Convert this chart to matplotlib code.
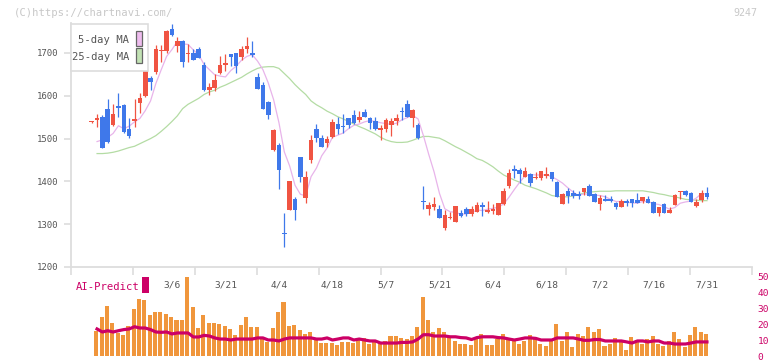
import matplotlib
matplotlib.use('Agg')
import matplotlib.pyplot as plt
import numpy as np
from matplotlib.patches import Rectangle

plt.rcParams['font.family'] = ['DejaVu Sans Mono']

# daily candles (index 0 .. 115)
opens = [1538, 1543, 1551, 1569, 1532, 1576, 1578, 1522, 1542, 1584,
         1599, 1642, 1656, 1704, 1705, 1755, 1717, 1728, 1698, 1701,
         1709, 1672, 1613, 1617, 1654, 1671, 1698, 1699, 1690, 1709,
         1701, 1645, 1625, 1586, 1473, 1485, 1278, 1333, 1359, 1458,
         1362, 1450, 1522, 1502, 1490, 1504, 1534, 1530, 1547, 1555,
         1544, 1561, 1547, 1541, 1521, 1522, 1532, 1541, 1564, 1581,
         1549, 1532, 1354, 1336, 1341, 1335, 1290, 1314, 1306, 1327,
         1335, 1324, 1329, 1346, 1329, 1330, 1322, 1347, 1389, 1429,
         1427, 1411, 1417, 1407, 1407, 1413, 1423, 1399, 1347, 1378,
         1374, 1371, 1376, 1389, 1370, 1347, 1360, 1359, 1350, 1341,
         1354, 1359, 1357, 1354, 1360, 1353, 1327, 1347, 1327, 1345,
         1376, 1378, 1374, 1343, 1357, 1374]
highs = [1540, 1557, 1555, 1592, 1581, 1606, 1581, 1547, 1592, 1606,
         1663, 1646, 1719, 1719, 1754, 1768, 1738, 1730, 1720, 1709,
         1713, 1678, 1629, 1652, 1693, 1698, 1698, 1700, 1717, 1738,
         1728, 1654, 1633, 1587, 1522, 1489, 1327, 1401, 1364, 1458,
         1425, 1508, 1534, 1508, 1506, 1545, 1550, 1557, 1549, 1567,
         1565, 1569, 1550, 1550, 1532, 1549, 1549, 1558, 1573, 1590,
         1568, 1536, 1389, 1353, 1363, 1345, 1332, 1329, 1343, 1332,
         1339, 1343, 1353, 1351, 1354, 1347, 1350, 1385, 1429, 1438,
         1431, 1434, 1420, 1423, 1425, 1433, 1423, 1400, 1374, 1384,
         1380, 1378, 1385, 1394, 1372, 1368, 1368, 1366, 1351, 1360,
         1360, 1360, 1374, 1364, 1366, 1354, 1340, 1350, 1341, 1371,
         1378, 1380, 1375, 1359, 1380, 1388]
lows = [1536, 1528, 1479, 1490, 1530, 1551, 1514, 1502, 1528, 1559,
        1598, 1613, 1652, 1680, 1699, 1740, 1703, 1668, 1680, 1683,
        1688, 1611, 1602, 1612, 1652, 1659, 1670, 1654, 1684, 1699,
        1691, 1615, 1568, 1546, 1472, 1382, 1247, 1333, 1310, 1399,
        1349, 1442, 1493, 1481, 1481, 1502, 1511, 1512, 1524, 1535,
        1538, 1550, 1523, 1521, 1497, 1516, 1505, 1532, 1543, 1551,
        1526, 1498, 1335, 1322, 1332, 1315, 1286, 1313, 1305, 1317,
        1319, 1319, 1328, 1318, 1325, 1323, 1321, 1346, 1385, 1407,
        1397, 1410, 1390, 1405, 1403, 1407, 1402, 1363, 1347, 1350,
        1362, 1358, 1369, 1366, 1352, 1333, 1354, 1353, 1335, 1340,
        1343, 1339, 1349, 1349, 1349, 1326, 1320, 1326, 1326, 1344,
        1360, 1366, 1352, 1339, 1353, 1360]
closes = [1538, 1547, 1479, 1493, 1557, 1572, 1516, 1505, 1546, 1595,
          1663, 1633, 1709, 1706, 1751, 1742, 1728, 1680, 1700, 1684,
          1689, 1613, 1621, 1637, 1672, 1676, 1690, 1670, 1709, 1717,
          1695, 1616, 1569, 1555, 1520, 1427, 1276, 1401, 1333, 1411,
          1411, 1497, 1501, 1481, 1499, 1538, 1522, 1526, 1532, 1537,
          1551, 1551, 1537, 1522, 1524, 1543, 1541, 1549, 1562, 1551,
          1567, 1502, 1351, 1345, 1347, 1315, 1322, 1316, 1342, 1318,
          1323, 1335, 1345, 1339, 1333, 1335, 1349, 1378, 1419, 1425,
          1417, 1424, 1397, 1411, 1424, 1417, 1406, 1364, 1371, 1366,
          1367, 1367, 1384, 1367, 1353, 1362, 1355, 1355, 1341, 1354,
          1350, 1350, 1350, 1363, 1350, 1327, 1339, 1327, 1333, 1368,
          1378, 1368, 1353, 1353, 1374, 1363]

# moving averages, volume and AI-Predict (index 1 .. 115)
ma5 = [1493, 1497, 1503, 1512, 1530, 1523, 1529, 1539, 1547, 1565,
       1588, 1629, 1661, 1692, 1708, 1727, 1721, 1720, 1707, 1696,
       1673, 1661, 1649, 1646, 1644, 1659, 1669, 1683, 1692, 1696,
       1681, 1661, 1630, 1591, 1537, 1469, 1436, 1391, 1370, 1366,
       1411, 1431, 1460, 1478, 1503, 1508, 1513, 1523, 1531, 1534,
       1539, 1542, 1540, 1537, 1535, 1533, 1536, 1544, 1549, 1554,
       1546, 1507, 1463, 1422, 1372, 1336, 1329, 1328, 1323, 1324,
       1327, 1333, 1332, 1335, 1337, 1340, 1347, 1363, 1381, 1398,
       1413, 1416, 1415, 1415, 1415, 1411, 1404, 1396, 1385, 1375,
       1367, 1371, 1370, 1368, 1367, 1364, 1358, 1353, 1353, 1351,
       1350, 1349, 1353, 1353, 1348, 1346, 1341, 1335, 1339, 1349,
       1352, 1354, 1361, 1372, 1370]
ma25 = [1465, 1465, 1466, 1468, 1471, 1475, 1479, 1482, 1488, 1494,
        1500, 1507, 1517, 1528, 1540, 1553, 1570, 1580, 1587, 1594,
        1603, 1609, 1613, 1620, 1625, 1631, 1637, 1643, 1651, 1658,
        1664, 1667, 1668, 1668, 1664, 1652, 1640, 1626, 1614, 1603,
        1588, 1579, 1572, 1564, 1558, 1551, 1546, 1540, 1534, 1528,
        1523, 1517, 1511, 1503, 1497, 1493, 1491, 1491, 1492, 1496,
        1501, 1505, 1505, 1503, 1501, 1495, 1488, 1481, 1475, 1468,
        1461, 1453, 1449, 1442, 1434, 1424, 1415, 1409, 1403, 1398,
        1391, 1387, 1383, 1378, 1373, 1367, 1365, 1364, 1364, 1366,
        1369, 1373, 1375, 1376, 1377, 1377, 1377, 1378, 1378, 1378,
        1378, 1378, 1378, 1376, 1374, 1371, 1369, 1366, 1364, 1361,
        1358, 1357, 1356, 1355, 1355]
volume = [15.8, 24.4, 31.4, 20.6, 14.4, 13.1, 18.9, 29.4, 35.6, 35.0,
          25.6, 27.7, 27.7, 26.5, 24.4, 22.5, 22.5, 49.4, 30.6, 17.5,
          25.6, 20.6, 20.6, 20.0, 18.9, 17.1, 13.1, 19.4, 24.4, 18.1,
          18.1, 10.4, 9.0, 17.5, 27.7, 34.0, 18.8, 19.4, 16.5, 13.8,
          15.0, 10.6, 8.1, 8.1, 8.1, 7.1, 9.0, 9.0, 8.1, 10.0,
          11.3, 7.7, 10.0, 8.0, 9.6, 12.5, 12.5, 11.3, 10.6, 12.5,
          18.1, 36.9, 22.5, 15.0, 17.5, 15.0, 11.3, 9.4, 7.5, 7.5,
          6.9, 10.6, 13.8, 6.9, 6.9, 10.6, 13.8, 11.3, 10.0, 7.5,
          9.4, 13.1, 10.6, 7.5, 6.3, 10.6, 20.0, 9.4, 15.0, 5.6,
          13.8, 12.5, 18.1, 15.0, 16.9, 6.3, 7.5, 11.3, 10.0, 3.8,
          11.9, 10.0, 7.5, 10.6, 12.5, 7.5, 6.3, 9.4, 15.0, 10.6,
          5.6, 13.1, 18.1, 15.0, 13.8]
ai_predict = [16.9, 15.0, 15.8, 15.0, 15.8, 16.5, 16.9, 18.3, 17.5, 17.5,
              16.5, 15.0, 14.8, 15.0, 13.8, 14.4, 14.4, 14.4, 11.9, 11.9,
              12.9, 12.5, 11.3, 10.6, 10.6, 10.0, 10.6, 10.6, 10.6, 10.6,
              11.3, 11.3, 10.0, 10.0, 9.4, 10.6, 11.3, 11.3, 11.3, 11.3,
              11.3, 10.6, 10.6, 11.3, 10.0, 10.6, 11.3, 11.3, 10.0, 10.6,
              10.0, 9.4, 9.4, 8.1, 8.1, 8.1, 8.1, 8.5, 8.5, 8.8,
              10.6, 13.3, 13.3, 12.5, 12.5, 12.5, 12.0, 12.0, 11.5, 11.3,
              10.3, 11.5, 12.0, 12.0, 12.0, 11.5, 11.3, 10.6, 10.0, 10.6,
              11.3, 11.3, 11.0, 10.0, 10.0, 10.0, 11.3, 11.3, 11.3, 11.3,
              10.6, 9.8, 9.8, 10.3, 10.3, 9.4, 9.4, 9.4, 9.4, 8.8,
              8.1, 9.4, 9.4, 8.8, 9.4, 9.4, 8.1, 8.1, 7.5, 7.5,
              7.5, 8.1, 8.8, 8.8, 8.8]

date_labels = ['3/6', '3/21', '4/4', '4/18', '5/7', '5/21', '6/4', '6/18', '7/2', '7/16', '7/31']
date_idx = [15, 25, 35, 45, 55, 65, 75, 85, 95, 105, 115]

RED = '#f05442'
BLUE = '#3f78ea'
GRID = '#dddddd'
TXT = '#555555'
AI = '#cc0066'

W, H = 772, 361
def fx(x):
    return x / W
def fy(y):
    return 1 - y / H

fig = plt.figure(figsize=(W / 100, H / 100), dpi=100)

##############################################################################
# AI-Predict panel (drawn first, transparent, so the date labels stay visible)
ax2 = fig.add_axes([fx(71), fy(356), fx(752) - fx(71), fy(276) - fy(356)])
ax2.patch.set_visible(False)
x0, x1 = -3.87, 123.42
ax2.set_xlim(x0, x1)
ax2.set_ylim(0, 50)
vx = np.arange(1, len(closes))
ax2.bar(vx - 0.15, volume, width=0.75, color='#f0963c', zorder=1)
ax2.plot(vx, ai_predict, color=AI, lw=2.3, zorder=2)
for s in ax2.spines.values():
    s.set_visible(False)
ax2.set_xticks([])
ax2.yaxis.tick_right()
ax2.set_yticks(range(0, 51, 10))
ax2.tick_params(axis='y', length=0, pad=4, labelsize=6.8, labelcolor=AI)

fig.text(fx(76), fy(286.5), 'AI-Predict', ha='left', va='center', fontsize=7.6, color=AI)
fig.patches.append(Rectangle((fx(142), fy(293)), fx(6.5), 16 / H, transform=fig.transFigure,
                             facecolor=AI, edgecolor='none'))

##############################################################################
# price panel
ax = fig.add_axes([fx(71), fy(267), fx(752) - fx(71), fy(23) - fy(267)])
ax.patch.set_visible(False)
ax.set_xlim(x0, x1)
ax.set_ylim(1200, 1770)

idx = np.arange(len(closes))
ma_idx = np.arange(1, len(closes))
ax.plot(ma_idx, ma25, color='#b4dca4', lw=0.9, zorder=1)
ax.plot(ma_idx, ma5, color='#e8b4ea', lw=0.9, zorder=1)

o = np.array(opens); c = np.array(closes)
cols = [RED if cc >= oo else BLUE for oo, cc in zip(o, c)]
ax.vlines(idx, lows, highs, colors=cols, lw=0.9, zorder=2)
body_lo = np.minimum(o, c)
body_h = np.maximum(np.abs(c - o), 2.5)
ax.bar(idx, body_h, bottom=body_lo, width=0.86, color=cols, zorder=3)

for s in ['top', 'right']:
    ax.spines[s].set_visible(False)
for s in ['left', 'bottom']:
    ax.spines[s].set_color(GRID)
    ax.spines[s].set_linewidth(1.3)

ax.set_yticks(range(1200, 1701, 100))
ax.tick_params(axis='y', length=5, width=1.2, color=GRID, labelcolor=TXT, labelsize=6.5, pad=4)
ax.set_xticks(np.linspace(x0, x1, 12))
ax.set_xticklabels([])
ax.tick_params(axis='x', which='major', length=6, width=1.2, color=GRID)
ax.set_xticks(date_idx, minor=True)
ax.set_xticklabels(date_labels, minor=True)
ax.tick_params(axis='x', which='minor', length=0, pad=9.5, labelsize=6.8, labelcolor=TXT)

# legend box
fig.patches.append(Rectangle((fx(71), fy(71)), fx(148) - fx(71), fy(24) - fy(71),
                             transform=fig.transFigure, facecolor='white', edgecolor=GRID,
                             lw=1.2, zorder=5))
fig.patches.append(Rectangle((fx(136), fy(46)), fx(6), 15 / H, transform=fig.transFigure,
                             facecolor='#eebcee', edgecolor='#666666', lw=0.9, zorder=6))
fig.patches.append(Rectangle((fx(136), fy(63)), fx(6), 15 / H, transform=fig.transFigure,
                             facecolor='#c2e2b4', edgecolor='#666666', lw=0.9, zorder=6))
fig.text(fx(129), fy(40), '5-day MA', ha='right', va='center', fontsize=7.6, color=TXT, zorder=7)
fig.text(fx(129), fy(57), '25-day MA', ha='right', va='center', fontsize=7.6, color=TXT, zorder=7)

fig.text(fx(14), fy(12.5), '(C)https://chartnavi.com/', ha='left', va='center', fontsize=7.6, color='#c8c8c8')
fig.text(fx(757), fy(12.5), '9247', ha='right', va='center', fontsize=7.2, color='#c8c8c8')

fig.savefig('out.png', dpi=100)
